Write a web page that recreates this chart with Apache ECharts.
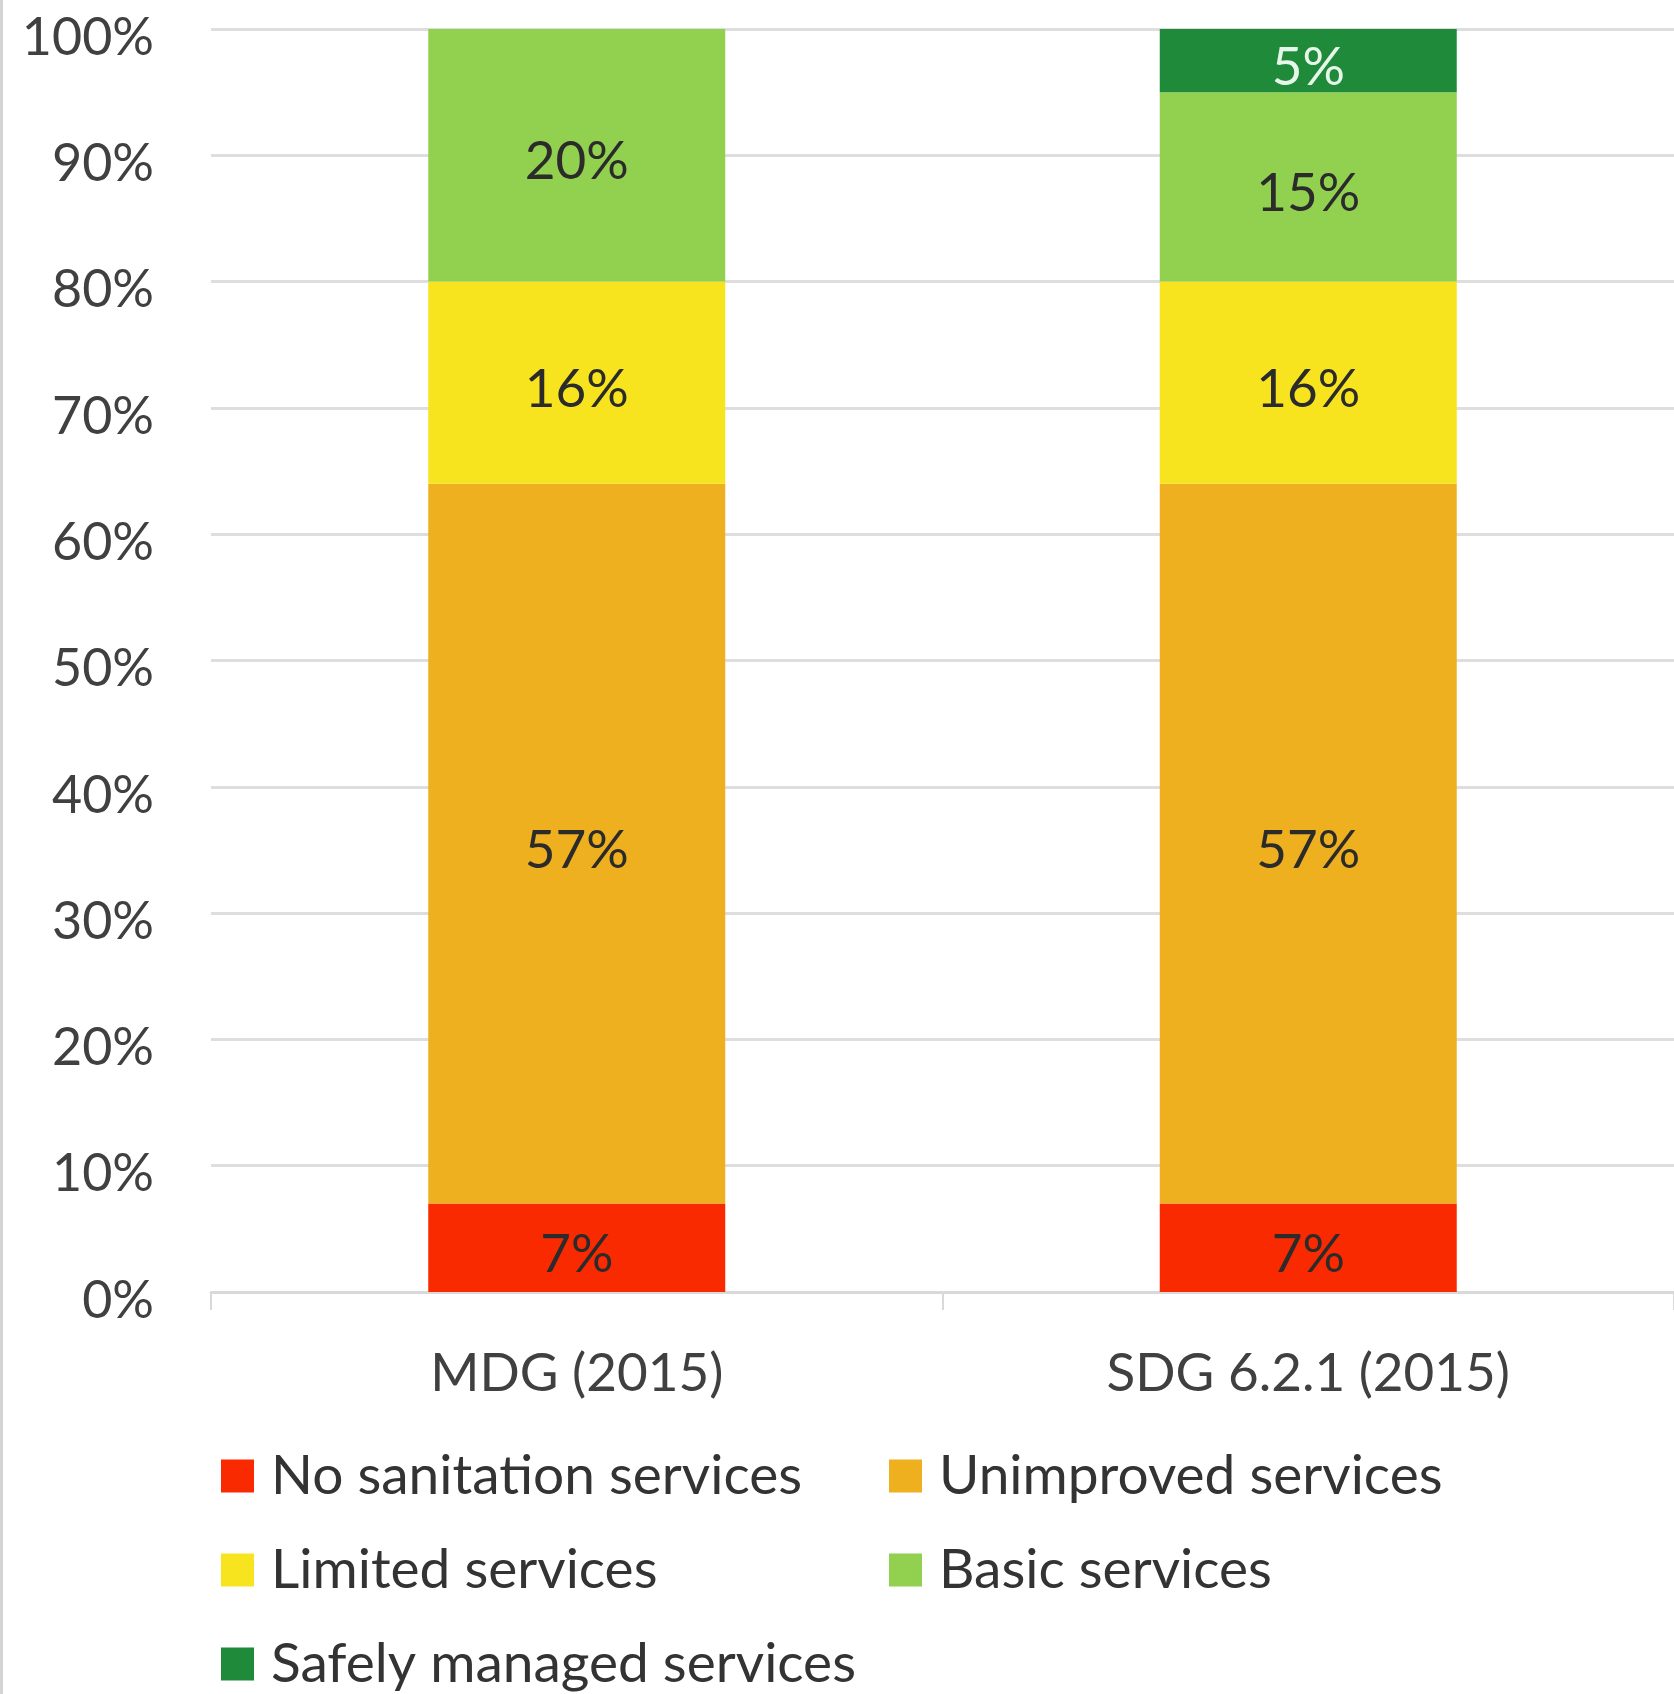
<!DOCTYPE html>
<html>
<head>
<meta charset="utf-8">
<script src="https://cdn.jsdelivr.net/npm/echarts@6/dist/echarts.min.js"></script>
<style>
html,body{margin:0;padding:0;background:#fff;}
#chart{width:1674px;height:1694px;}
</style>
</head>
<body>
<div id="chart"></div>
<script>
const categories = ['MDG (2015)', 'SDG 6.2.1 (2015)'];
const noSanitation = [7, 7];
const unimproved = [57, 57];
const limited = [16, 16];
const basic = [20, 15];
const safelyManaged = [null, 5];
const yTicks = [0, 10, 20, 30, 40, 50, 60, 70, 80, 90, 100];

const FONT = 'Lato';
const colors = {
  'No sanitation services': '#fa2a00',
  'Unimproved services': '#eeb01e',
  'Limited services': '#f8e41e',
  'Basic services': '#92d050',
  'Safely managed services': '#1f8a3a'
};

function mk(name, data, labelColor) {
  return {
    name: name,
    type: 'bar',
    stack: 'total',
    data: data,
    barWidth: 297,
    itemStyle: { color: colors[name] },
    label: {
      show: true,
      position: 'inside',
      offset: [0, 7],
      formatter: p => (p.value == null ? '' : p.value + '%'),
      fontFamily: FONT,
      fontSize: 53,
      color: labelColor || '#2b2b2b'
    },
    emphasis: { disabled: true }
  };
}

const chart = echarts.init(document.getElementById('chart'), null, { renderer: 'canvas' });
const legendText = { fontFamily: FONT, fontSize: 55, color: '#333333', lineHeight: 60, padding: [0, 0, 0, 12] };
const legendBase = {
  orient: 'vertical', top: 1446, height: 400, padding: 0,
  itemWidth: 33, itemHeight: 33, itemGap: 34,
  icon: 'rect', selectedMode: false, textStyle: legendText
};
chart.setOption({
  animation: false,
  backgroundColor: '#ffffff',
  graphic: [{ type: 'rect', left: 0, top: 0, shape: { width: 3, height: 1694 }, style: { fill: '#d4d4d4' } }],
  grid: { left: 211, top: 29, height: 1263, width: 1488 },
  xAxis: {
    type: 'category',
    data: categories,
    axisLine: { show: true, lineStyle: { color: '#d9d9d9', width: 3 } },
    axisTick: { show: true, length: 18, lineStyle: { color: '#d9d9d9', width: 2 } },
    axisLabel: { fontFamily: FONT, fontSize: 53, color: '#404040', margin: 55 }
  },
  yAxis: {
    type: 'value',
    min: yTicks[0],
    max: yTicks[yTicks.length - 1],
    interval: 10,
    axisLine: { show: false },
    axisTick: { show: false },
    splitLine: { lineStyle: { color: '#dedede', width: 3 } },
    axisLabel: { formatter: '{value}%', fontFamily: FONT, fontSize: 52, color: '#404040', margin: 57, verticalAlign: 'top', lineHeight: 18 }
  },
  legend: [
    Object.assign({ data: ['No sanitation services', 'Limited services', 'Safely managed services'], left: 221 }, legendBase),
    Object.assign({ data: ['Unimproved services', 'Basic services'], left: 889 }, legendBase)
  ],
  series: [
    mk('No sanitation services', noSanitation),
    mk('Unimproved services', unimproved),
    mk('Limited services', limited),
    mk('Basic services', basic),
    mk('Safely managed services', safelyManaged, '#e6f7ea')
  ]
});
</script>
</body>
</html>
